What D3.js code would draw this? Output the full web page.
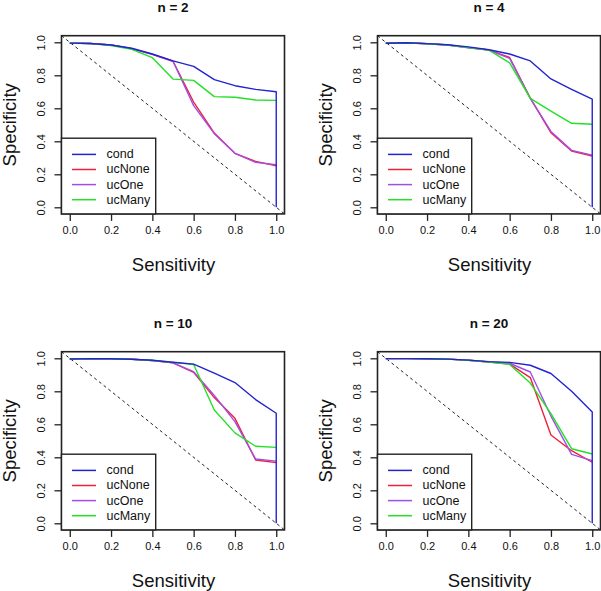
<!DOCTYPE html>
<html>
<head>
<meta charset="utf-8">
<script src="https://cdn.jsdelivr.net/npm/d3@7"></script>
<style>
  html, body { margin: 0; padding: 0; background: #fff; }
  svg { display: block; }
  text { font-family: "Liberation Sans", Arial, sans-serif; fill: #111; }
</style>
</head>
<body>
<svg id="chart" width="601" height="591"></svg>
<script>
// ---------- data ----------
const sensitivity = [0, 0.1, 0.2, 0.3, 0.4, 0.5, 0.6, 0.7, 0.8, 0.9, 1.0];
const seriesNames = ["cond", "ucNone", "ucOne", "ucMany"];
const panelTitles = ["n = 2", "n = 4", "n = 10", "n = 20"];
const xTicks = [0, 0.2, 0.4, 0.6, 0.8, 1.0];
const yTicks = [0, 0.2, 0.4, 0.6, 0.8, 1.0];

// cond curve ends with a vertical drop to (1, 0)
const condN2  = [0.995, 0.993, 0.984, 0.964, 0.929, 0.887, 0.854, 0.774, 0.737, 0.715, 0.700, 0];
const ucNoneN2 = [0.995, 0.993, 0.984, 0.962, 0.927, 0.885, 0.638, 0.450, 0.327, 0.278, 0.252];
const ucOneN2  = [0.995, 0.993, 0.984, 0.962, 0.927, 0.885, 0.616, 0.446, 0.327, 0.272, 0.258];
const ucManyN2 = [0.995, 0.993, 0.980, 0.957, 0.907, 0.777, 0.769, 0.671, 0.667, 0.650, 0.648];

const condN4   = [0.994, 0.997, 0.992, 0.985, 0.972, 0.955, 0.929, 0.887, 0.778, 0.715, 0.655, 0];
const ucNoneN4 = [0.994, 0.997, 0.991, 0.984, 0.968, 0.953, 0.908, 0.662, 0.452, 0.341, 0.310];
const ucOneN4  = [0.994, 0.997, 0.991, 0.984, 0.966, 0.953, 0.903, 0.660, 0.460, 0.345, 0.316];
const ucManyN4 = [0.994, 0.997, 0.991, 0.984, 0.968, 0.953, 0.875, 0.660, 0.583, 0.509, 0.503];

const condN10   = [0.996, 0.998, 0.997, 0.994, 0.988, 0.976, 0.965, 0.910, 0.853, 0.750, 0.667, 0];
const ucNoneN10 = [0.996, 0.998, 0.997, 0.994, 0.987, 0.972, 0.915, 0.762, 0.636, 0.384, 0.368];
const ucOneN10  = [0.996, 0.998, 0.997, 0.994, 0.987, 0.972, 0.919, 0.775, 0.616, 0.390, 0.377];
const ucManyN10 = [0.996, 0.998, 0.997, 0.994, 0.987, 0.975, 0.962, 0.687, 0.548, 0.467, 0.460];

const condN20   = [0.998, 0.998, 0.997, 0.995, 0.989, 0.980, 0.975, 0.958, 0.908, 0.800, 0.675, 0];
const ucNoneN20 = [0.998, 0.998, 0.997, 0.995, 0.988, 0.978, 0.965, 0.883, 0.535, 0.440, 0.370];
const ucOneN20  = [0.998, 0.998, 0.997, 0.995, 0.988, 0.978, 0.970, 0.917, 0.650, 0.418, 0.380];
const ucManyN20 = [0.998, 0.998, 0.997, 0.995, 0.988, 0.978, 0.963, 0.850, 0.665, 0.452, 0.420];

const panelData = [
  { cond: condN2,  ucNone: ucNoneN2,  ucOne: ucOneN2,  ucMany: ucManyN2 },
  { cond: condN4,  ucNone: ucNoneN4,  ucOne: ucOneN4,  ucMany: ucManyN4 },
  { cond: condN10, ucNone: ucNoneN10, ucOne: ucOneN10, ucMany: ucManyN10 },
  { cond: condN20, ucNone: ucNoneN20, ucOne: ucOneN20, ucMany: ucManyN20 }
];

// ---------- styles ----------
const colors = { cond: "#2323cf", ucNone: "#f0203c", ucOne: "#a24ee6", ucMany: "#25e025" };
const drawOrder = ["ucNone", "ucOne", "ucMany", "cond"];

const svg = d3.select("#chart");

const boxW = 223, boxH = 178.2;
const offsets = [[61.5, 35.7], [377.5, 35.7], [61.5, 351.7], [377.5, 351.7]];

panelData.forEach((pd, i) => {
  const [ox, oy] = offsets[i];
  const g = svg.append("g").attr("transform", `translate(${ox},${oy})`);
  const x = d3.scaleLinear().domain([-0.04, 1.04]).range([0, boxW]);
  const y = d3.scaleLinear().domain([-0.04, 1.04]).range([boxH, 0]);

  const clipId = "clip" + i;
  g.append("clipPath").attr("id", clipId).append("rect")
    .attr("width", boxW).attr("height", boxH);

  const plot = g.append("g").attr("clip-path", `url(#${clipId})`);

  // diagonal reference line (abline 1, -1)
  plot.append("line")
    .attr("x1", x(-0.04)).attr("y1", y(1.04))
    .attr("x2", x(1.04)).attr("y2", y(-0.04))
    .attr("stroke", "#222").attr("stroke-width", 1)
    .attr("stroke-dasharray", "3,3");

  const line = d3.line().x(d => x(d[0])).y(d => y(d[1]));

  drawOrder.forEach(name => {
    const vals = pd[name];
    const pts = vals.map((v, k) => [k < sensitivity.length ? sensitivity[k] : 1.0, v]);
    plot.append("path")
      .datum(pts)
      .attr("d", line)
      .attr("fill", "none")
      .attr("stroke", colors[name])
      .attr("stroke-width", 1.4)
      .attr("stroke-linejoin", "round");
  });

  // axes
  const xAxis = d3.axisBottom(x).tickValues(xTicks).tickSize(7).tickFormat(d3.format(".1f"));
  const xg = g.append("g").attr("transform", `translate(0,${boxH})`).call(xAxis);
  xg.select(".domain").remove();
  xg.selectAll(".tick line").attr("stroke", "#222").attr("stroke-width", 1.3);
  xg.selectAll(".tick text").attr("font-size", 11).attr("font-family", "Liberation Sans, Arial, sans-serif")
    .attr("fill", "#222").attr("y", 12).attr("dy", "0.71em");

  const yAxis = d3.axisLeft(y).tickValues(yTicks).tickSize(7).tickFormat(d3.format(".1f"));
  const yg = g.append("g").call(yAxis);
  yg.select(".domain").remove();
  yg.selectAll(".tick line").attr("stroke", "#222").attr("stroke-width", 1.3);
  yg.selectAll(".tick text")
    .attr("font-size", 11).attr("font-family", "Liberation Sans, Arial, sans-serif")
    .attr("fill", "#222")
    .attr("x", null).attr("dy", null)
    .attr("text-anchor", "middle")
    .attr("dominant-baseline", "central")
    .attr("transform", "translate(-20.5,0) rotate(-90)");

  // box
  g.append("rect").attr("width", boxW).attr("height", boxH)
    .attr("fill", "none").attr("stroke", "#222").attr("stroke-width", 1.6);

  // title
  g.append("text").attr("x", boxW / 2).attr("y", -23.5)
    .attr("text-anchor", "middle").attr("font-weight", "bold").attr("font-size", 13.5)
    .text(panelTitles[i]);

  // axis titles
  g.append("text").attr("x", boxW / 2 + 0.5).attr("y", boxH + 51)
    .attr("text-anchor", "middle").attr("dominant-baseline", "central")
    .attr("font-size", 18.5).text("Sensitivity");
  g.append("text")
    .attr("transform", `translate(-52.5,${y(0.5)}) rotate(-90)`)
    .attr("text-anchor", "middle").attr("dominant-baseline", "central")
    .attr("font-size", 18.5).text("Specificity");

  // legend
  const lg = g.append("g").attr("transform", `translate(0,${boxH - 75.7})`);
  lg.append("rect").attr("width", 94.2).attr("height", 75.7)
    .attr("fill", "#fff").attr("stroke", "#222").attr("stroke-width", 1.4);
  seriesNames.forEach((name, k) => {
    const ly = 16.2 + k * 15.1;
    lg.append("line").attr("x1", 10.5).attr("x2", 34.5).attr("y1", ly).attr("y2", ly)
      .attr("stroke", colors[name]).attr("stroke-width", 1.5);
    lg.append("text").attr("x", 45).attr("y", ly)
      .attr("dominant-baseline", "central").attr("font-size", 12.5)
      .attr("fill", "#222").text(name);
  });
});
</script>
</body>
</html>
